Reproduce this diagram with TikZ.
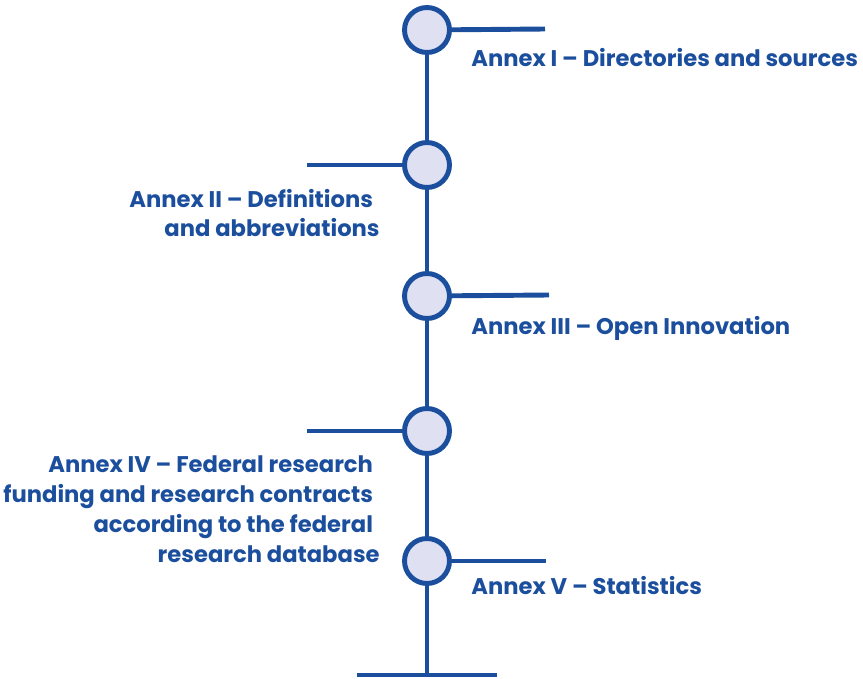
\documentclass[tikz,border=0pt]{standalone}
\usepackage{fontspec}
\setmainfont{Poppins}
\usepackage{xcolor}
\usetikzlibrary{positioning, calc}

\definecolor{annexblue}{HTML}{1B4F9D}
\definecolor{annexfill}{HTML}{DFE0F2}

\tikzset{
    stop/.style={circle, draw=annexblue, fill=annexfill, line width=2.8pt, minimum size=0.9cm, inner sep=0},
    annex/.style={text=annexblue, font=\bfseries\fontsize{12.9}{17}\selectfont, inner sep=0},
    rail/.style={annexblue, line width=2.8pt}
}

\begin{document}
\begin{tikzpicture}[x=0.02cm, y=-0.02cm]
    % Page frame
    \useasboundingbox (0,0) rectangle (863,679);

    % Ends of the main line
    \coordinate (top) at (427,30);
    \coordinate (bot) at (427,675);
    \coordinate (botL) at (357,675);
    \coordinate (botR) at (497,675);

    % Main line and foot
    \draw[rail] (top) -- (bot);
    \draw[rail] (botL) -- (botR);

    % Side ticks
    \coordinate (t1) at (545,29);
    \coordinate (t2) at (307,165);
    \coordinate (t3) at (549,295);
    \coordinate (t4) at (307,431);
    \coordinate (t5) at (546,561);
    \draw[rail] (top) -- (t1);
    \draw[rail] (427,165) -- (t2);
    \draw[rail] (427,296) -- (t3);
    \draw[rail] (427,431) -- (t4);
    \draw[rail] (427,561) -- (t5);

    % Stops
    \node[stop] (c1) at (top) {};
    \node[stop] (c2) at (427,165) {};
    \node[stop] (c3) at (427,296) {};
    \node[stop] (c4) at (427,431) {};
    \node[stop] (c5) at (427,561) {};

    % Labels
    \node[annex, anchor=west] (a1) at (471,58) {Annex I -- Directories and sources};
    \node[annex, anchor=east, align=right] (a2) at (380,213) {Annex II -- Definitions\hphantom{i}\\and abbreviations};
    \node[annex, anchor=west] (a3) at (471,328) {Annex III -- Open Innovation};
    \node[annex, anchor=east, align=right] (a4) at (380,509) {Annex IV -- Federal research\hphantom{i}\\funding and research contracts\hphantom{i}\\according to the federal\hphantom{i}\\research database};
    \node[annex, anchor=west] (a5) at (471,586) {Annex V -- Statistics};
\end{tikzpicture}
\end{document}
